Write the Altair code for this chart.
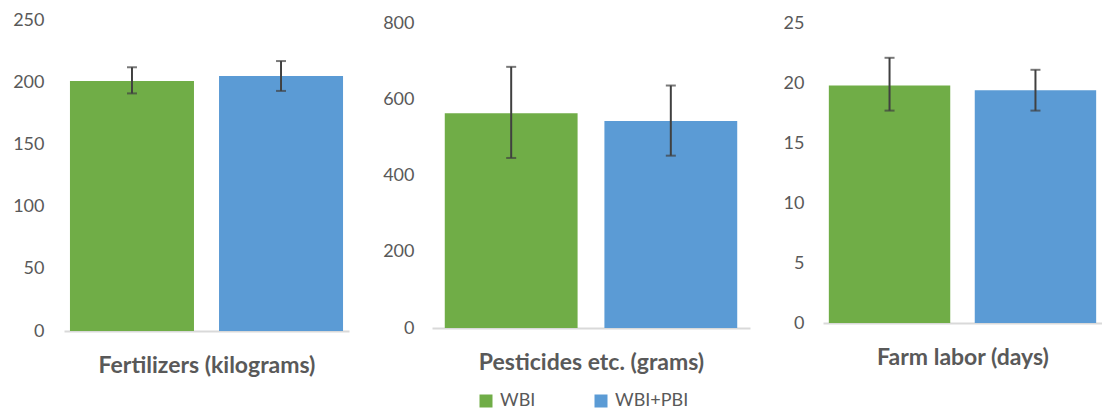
import altair as alt
import pandas as pd

categories = ["Fertilizers (kilograms)", "Pesticides etc. (grams)", "Farm labor (days)"]
series = ["WBI", "WBI+PBI"]
colors = ["#70AD47", "#5B9BD5"]

fert_mean = [201, 205]
fert_lo = [191, 193]
fert_hi = [212, 217]

pest_mean = [563, 543]
pest_lo = [446, 452]
pest_hi = [685, 636]

labor_mean = [19.8, 19.4]
labor_lo = [17.7, 17.7]
labor_hi = [22.1, 21.1]

fert_ticks = [0, 50, 100, 150, 200, 250]
pest_ticks = [0, 200, 400, 600, 800]
labor_ticks = [0, 5, 10, 15, 20, 25]

FONT = "Lato"
GREY = "#595959"


def panel(title, means, lo, hi, ticks, ymax, width, height, label_pad, p_outer, legend):
    df = pd.DataFrame({"series": series, "mean": means, "lo": lo, "hi": hi})
    xscale = alt.Scale(domain=series, paddingInner=0.168, paddingOuter=p_outer)
    x = alt.X(
        "series:N",
        scale=xscale,
        axis=alt.Axis(
            labels=False,
            ticks=False,
            title=title,
            domainColor="#D9D9D9",
            domainWidth=2,
            titleFontSize=23,
            titleFontWeight="bold",
            titleColor=GREY,
            titleFont=FONT,
            titlePadding=23,
        ),
    )
    yscale = alt.Scale(domain=[0, ymax], nice=False, zero=True)
    y = alt.Y(
        "mean:Q",
        scale=yscale,
        axis=alt.Axis(
            values=ticks,
            grid=False,
            domain=False,
            ticks=False,
            labelPadding=label_pad,
            labelFontSize=18,
            labelColor=GREY,
            labelFont=FONT,
            title=None,
        ),
    )
    color = alt.Color(
        "series:N",
        scale=alt.Scale(domain=series, range=colors),
        legend=legend,
    )
    base = alt.Chart(df)
    bars = base.mark_bar().encode(x=x, y=y, color=color)
    rule = base.mark_rule(color="#404040", strokeWidth=2).encode(
        x=alt.X("series:N", scale=xscale), y=alt.Y("lo:Q", scale=yscale), y2="hi:Q"
    )
    cap_lo = base.mark_tick(color="#404040", thickness=2, size=10).encode(
        x=alt.X("series:N", scale=xscale), y=alt.Y("lo:Q", scale=yscale)
    )
    cap_hi = base.mark_tick(color="#404040", thickness=2, size=10).encode(
        x=alt.X("series:N", scale=xscale), y=alt.Y("hi:Q", scale=yscale)
    )
    return alt.layer(bars, rule, cap_lo, cap_hi).properties(width=width, height=height)


legend = alt.Legend(
    title=None,
    orient="none",
    direction="horizontal",
    legendX=413,
    legendY=372,
    symbolType="square",
    symbolSize=169,
    symbolStrokeWidth=0,
    labelFontSize=18,
    labelFont=FONT,
    labelColor=GREY,
    columnPadding=56,
    labelOffset=5,
)

p1 = panel(categories[0], fert_mean, fert_lo, fert_hi, fert_ticks, 250, 285, 311, 20, 0.04, legend)
p2 = panel(categories[1], pest_mean, pest_lo, pest_hi, pest_ticks, 800 * 308 / 305, 318, 308, 18, 0.08, None)
p3 = panel(categories[2], labor_mean, labor_lo, labor_hi, labor_ticks, 25 * 303 / 300, 279, 303, 19, 0.04, None)

chart = (
    alt.hconcat(p1, p2, p3, spacing=33)
    .properties(padding={"left": 4, "top": 3, "right": 0, "bottom": 0})
    .configure(font=FONT)
    .configure_view(stroke="transparent", strokeWidth=0)
)

chart.save("out.html", embed_options={"renderer": "svg", "actions": False})
